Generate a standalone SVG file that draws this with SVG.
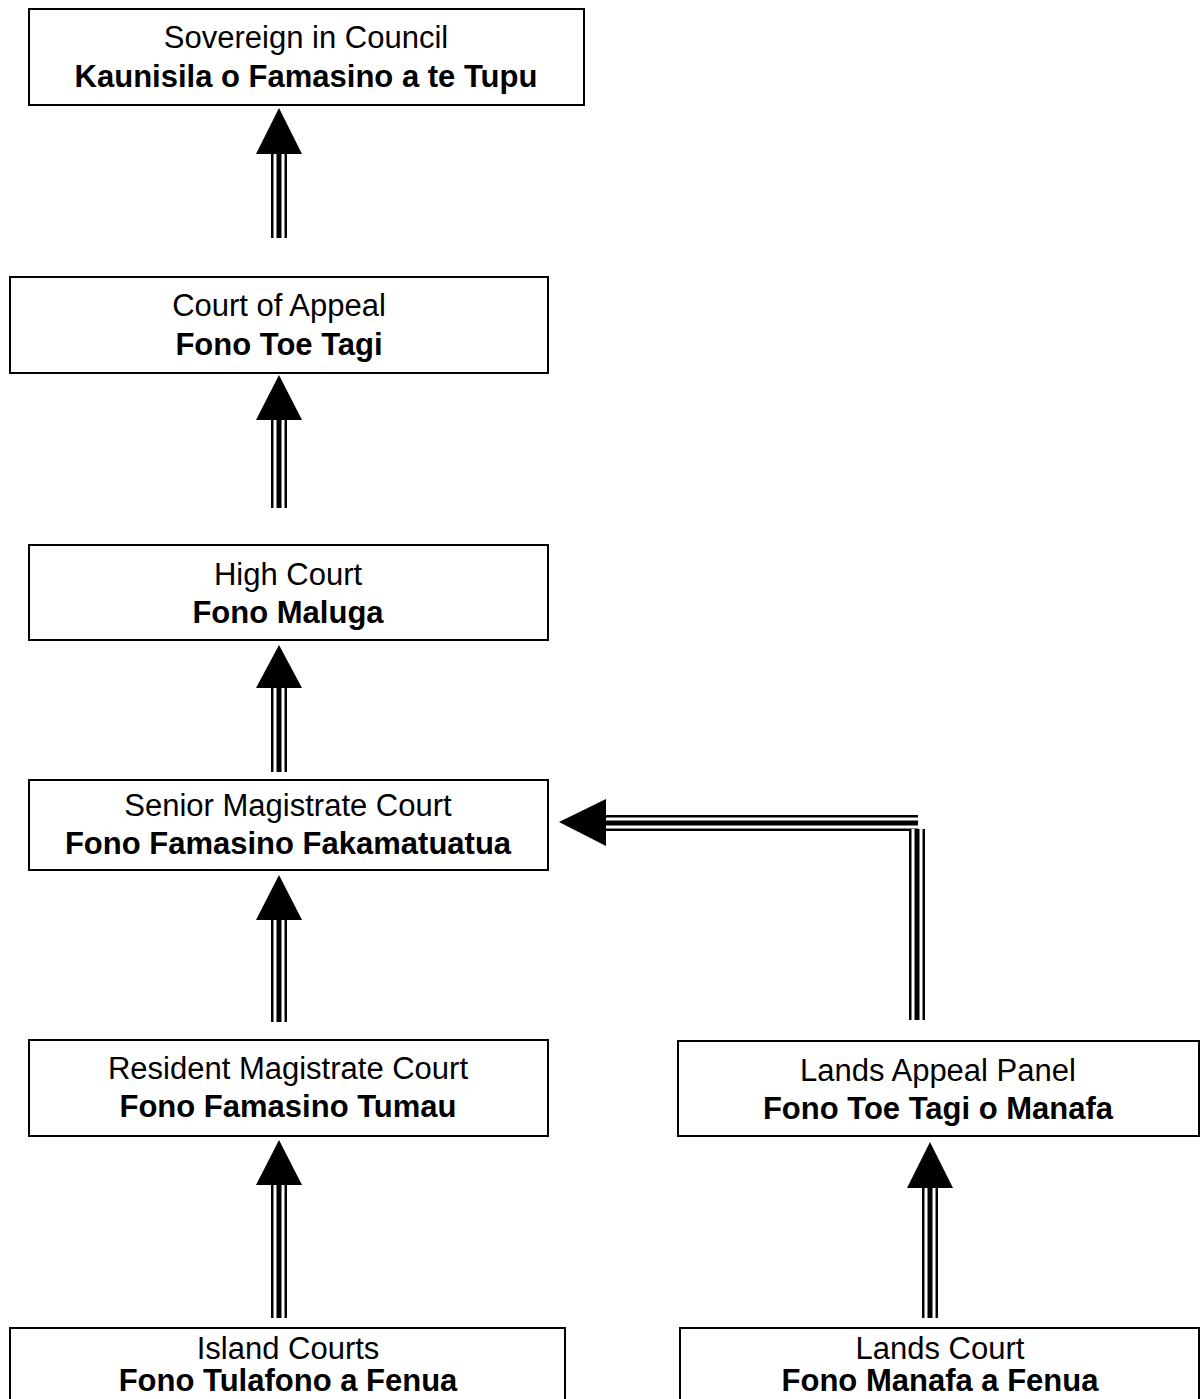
<svg xmlns="http://www.w3.org/2000/svg" width="1204" height="1399" viewBox="0 0 1204 1399">
<style>
.box{fill:#fff;stroke:#000;stroke-width:2}
.t{font-family:"Liberation Sans",Arial,sans-serif;font-size:31px;text-anchor:middle;fill:#000}
.b{font-weight:bold}
.s1{stroke:#000;stroke-width:16;fill:none}
.s2{stroke:#fff;stroke-width:11;fill:none}
.s3{stroke:#000;stroke-width:5;fill:none}
.hd{fill:#000}
</style>
<rect width="1204" height="1399" fill="#fff"/>
<g id="connectors">
<g id="a1"><line class="s1" x1="279" y1="152" x2="279" y2="238"/><line class="s2" x1="279" y1="152" x2="279" y2="238"/><line class="s3" x1="279" y1="152" x2="279" y2="238"/><polygon class="hd" points="279,108 302,154 256,154"/></g>
<g id="a2"><line class="s1" x1="279" y1="418" x2="279" y2="508"/><line class="s2" x1="279" y1="418" x2="279" y2="508"/><line class="s3" x1="279" y1="418" x2="279" y2="508"/><polygon class="hd" points="279,375 302,420 256,420"/></g>
<g id="a3"><line class="s1" x1="279" y1="686" x2="279" y2="772"/><line class="s2" x1="279" y1="686" x2="279" y2="772"/><line class="s3" x1="279" y1="686" x2="279" y2="772"/><polygon class="hd" points="279,645 302,688 256,688"/></g>
<g id="a4"><line class="s1" x1="279" y1="918" x2="279" y2="1022"/><line class="s2" x1="279" y1="918" x2="279" y2="1022"/><line class="s3" x1="279" y1="918" x2="279" y2="1022"/><polygon class="hd" points="279,875 302,920 256,920"/></g>
<g id="a5"><line class="s1" x1="279" y1="1183" x2="279" y2="1318"/><line class="s2" x1="279" y1="1183" x2="279" y2="1318"/><line class="s3" x1="279" y1="1183" x2="279" y2="1318"/><polygon class="hd" points="279,1140 302,1185 256,1185"/></g>
<g id="a6"><line class="s1" x1="930" y1="1186" x2="930" y2="1318"/><line class="s2" x1="930" y1="1186" x2="930" y2="1318"/><line class="s3" x1="930" y1="1186" x2="930" y2="1318"/><polygon class="hd" points="930,1142 953,1188 907,1188"/></g>
<g id="a7">
<line class="s1" x1="604" y1="823" x2="918" y2="823"/><line class="s2" x1="604" y1="823" x2="918" y2="823"/><line class="s3" x1="604" y1="823" x2="918" y2="823"/>
<line class="s1" x1="917" y1="829" x2="917" y2="1020"/><line class="s2" x1="917" y1="829" x2="917" y2="1020"/><line class="s3" x1="917" y1="829" x2="917" y2="1020"/>
<polygon class="hd" points="559,822 606,799 606,846"/>
</g>
</g>
<g id="n1"><rect class="box" x="29" y="9" width="555" height="96"/><text class="t" x="306" y="48">Sovereign in Council</text><text class="t b" x="306" y="87">Kaunisila o Famasino a te Tupu</text></g>
<g id="n2"><rect class="box" x="10" y="277" width="538" height="96"/><text class="t" x="279" y="316">Court of Appeal</text><text class="t b" x="279" y="355">Fono Toe Tagi</text></g>
<g id="n3"><rect class="box" x="29" y="545" width="519" height="95"/><text class="t" x="288" y="585">High Court</text><text class="t b" x="288" y="623">Fono Maluga</text></g>
<g id="n4"><rect class="box" x="29" y="780" width="519" height="90"/><text class="t" x="288" y="816">Senior Magistrate Court</text><text class="t b" x="288" y="854">Fono Famasino Fakamatuatua</text></g>
<g id="n5"><rect class="box" x="29" y="1040" width="519" height="96"/><text class="t" x="288" y="1079">Resident Magistrate Court</text><text class="t b" x="288" y="1117">Fono Famasino Tumau</text></g>
<g id="n6"><rect class="box" x="678" y="1041" width="521" height="95"/><text class="t" x="938" y="1081">Lands Appeal Panel</text><text class="t b" x="938" y="1119">Fono Toe Tagi o Manafa</text></g>
<g id="n7"><rect class="box" x="10" y="1328" width="555" height="100"/><text class="t" x="288" y="1359">Island Courts</text><text class="t b" x="288" y="1391">Fono Tulafono a Fenua</text></g>
<g id="n8"><rect class="box" x="680" y="1328" width="519" height="100"/><text class="t" x="940" y="1359">Lands Court</text><text class="t b" x="940" y="1391">Fono Manafa a Fenua</text></g>
</svg>
